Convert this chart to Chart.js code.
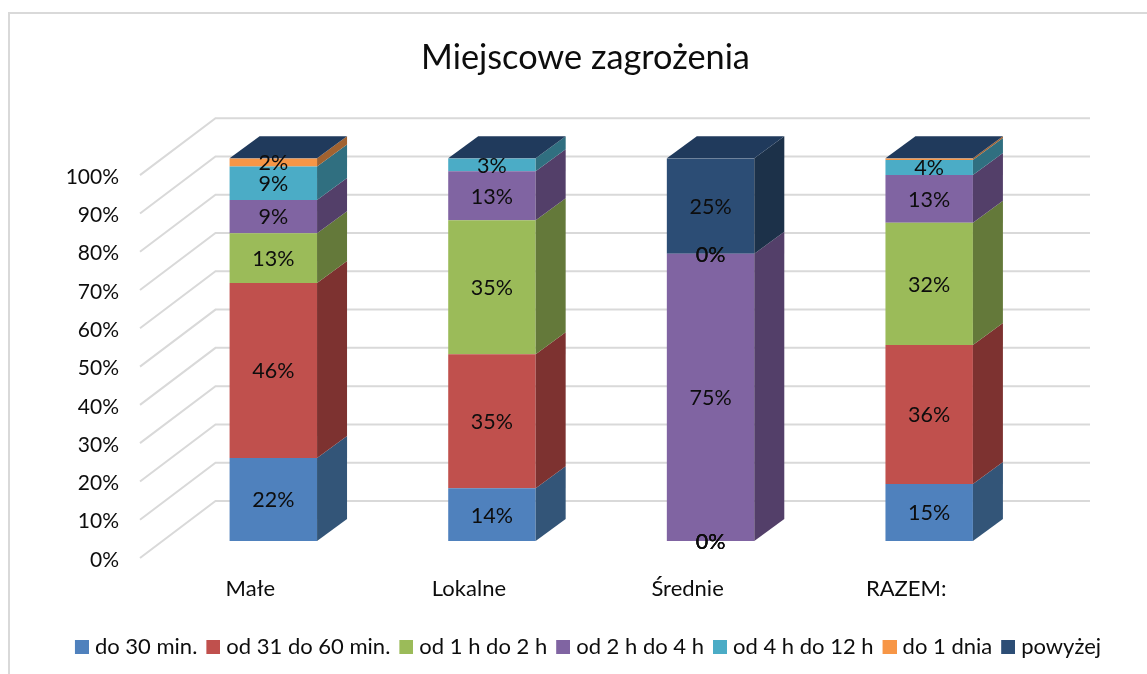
<!DOCTYPE html>
<html><head><meta charset="utf-8">
<script src="https://cdn.jsdelivr.net/npm/chart.js@4"></script>
<style>html,body{margin:0;padding:0;background:#fff}canvas{display:block}</style>
</head><body>
<canvas id="c" width="1147" height="674"></canvas>
<script>
const categories = ['Małe','Lokalne','Średnie','RAZEM:'];
const doPol = [21.7, 13.8, 0, 14.9];
const od31 = [45.7, 35, 0, 36.3];
const od1h = [13, 35, 0, 31.9];
const od2h = [8.7, 12.8, 75, 12.5];
const od4h = [8.7, 3.4, 0, 3.9];
const do1d = [2.2, null, 0, 0.5];
const powyzej = [null, null, 25, null];
const seriesNames = ['do 30 min.','od 31 do 60 min.','od 1 h do 2 h','od 2 h do 4 h','od 4 h do 12 h','do 1 dnia','powyżej'];
const seriesValues = [doPol, od31, od1h, od2h, od4h, do1d, powyzej];
const frontColors = ['#4f81bd','#c0504d','#9bbb59','#8064a2','#4bacc6','#f79646','#2c4d75'];
const sideColors = ['#335578','#7d3230','#64793a','#533f69','#306f80','#a16230','#1c3149'];
const topColor = '#203a5c';
const gridColor = '#d9d9d9';
const FONT = 'Lato';

const depthX = 30, depthY = 22, wallX = 75.5, wallFront = 17, wallBack = -40;

function legendSwatch(color) {
  const shift = 5, size = 14;
  const cv = document.createElement('canvas');
  cv.width = size + 2 * shift; cv.height = size;
  const g = cv.getContext('2d');
  g.fillStyle = color;
  g.fillRect(2 * shift, 0, size, size);
  return cv;
}

const threeD = {
  id: 'threeD',
  beforeDraw(chart) {
    const c = chart.ctx;
    c.save();
    c.strokeStyle = gridColor; c.lineWidth = 2;
    c.beginPath();
    c.moveTo(9, 674); c.lineTo(9, 13); c.lineTo(1147, 13);
    c.stroke();
    c.restore();
  },
  beforeDatasetsDraw(chart) {
    const c = chart.ctx, y = chart.scales.y, a = chart.chartArea;
    const left = a.left - 24, right = a.right + 51.5;
    c.save();
    c.strokeStyle = gridColor; c.lineWidth = 2;
    y.ticks.forEach(t => {
      const p = y.getPixelForValue(t.value);
      c.beginPath();
      c.moveTo(left, p + wallFront);
      c.lineTo(left + wallX, p + wallBack);
      c.lineTo(right, p + wallBack);
      c.stroke();
    });
    c.restore();
  },
  afterDatasetsDraw(chart) {
    const c = chart.ctx;
    c.save();
    categories.forEach((_, i) => {
      let x2 = 0, x1 = 0, topY = Infinity;
      chart.data.datasets.forEach((ds, d) => {
        const el = chart.getDatasetMeta(d).data[i];
        const v = ds.data[i];
        if (v === null || isNaN(el.y)) return;
        x1 = el.x - el.width / 2; x2 = el.x + el.width / 2;
        topY = Math.min(topY, el.y);
        if (!v) return;
        c.fillStyle = sideColors[d];
        c.beginPath();
        c.moveTo(x2, el.y); c.lineTo(x2 + depthX, el.y - depthY);
        c.lineTo(x2 + depthX, el.base - depthY); c.lineTo(x2, el.base);
        c.closePath(); c.fill();
      });
      c.fillStyle = topColor;
      c.beginPath();
      c.moveTo(x1, topY); c.lineTo(x1 + depthX, topY - depthY);
      c.lineTo(x2 + depthX, topY - depthY); c.lineTo(x2, topY);
      c.closePath(); c.fill();
    });
    c.fillStyle = '#0d0d0d';
    c.font = '21.5px ' + FONT;
    c.textAlign = 'center'; c.textBaseline = 'middle';
    chart.data.datasets.forEach((ds, d) => {
      ds.data.forEach((v, i) => {
        if (v === null || (v > 0 && v < 1)) return;
        const el = chart.getDatasetMeta(d).data[i];
        c.fillText(Math.round(v) + '%', el.x, (el.y + el.base) / 2 + 1);
      });
    });
    c.restore();
  }
};

new Chart(document.getElementById('c'), {
  type: 'bar',
  data: {
    labels: categories,
    datasets: seriesNames.map((n, i) => ({
      label: n, data: seriesValues[i], backgroundColor: frontColors[i],
      stack: 's', barPercentage: 1, categoryPercentage: 0.4
    }))
  },
  options: {
    responsive: false, animation: false, devicePixelRatio: 1,
    layout: { padding: { left: 24, right: 0, top: 0, bottom: 6 } },
    scales: {
      x: {
        stacked: true,
        grid: { display: false }, border: { display: false },
        ticks: { color: '#0d0d0d', font: { family: FONT, size: 22 }, padding: 27, labelOffset: -23, maxRotation: 0 },
        afterFit(s) { s.height = 91; }
      },
      y: {
        stacked: true, min: 0, max: 100,
        grid: { display: false, drawTicks: false }, border: { display: false },
        ticks: { stepSize: 10, color: '#0d0d0d', font: { family: FONT, size: 21 }, padding: 45, labelOffset: 19, callback: v => v + '%' },
        afterFit(s) { s.width = 140; }
      },
      yR: {
        position: 'right', display: true,
        grid: { display: false, drawTicks: false }, border: { display: false },
        ticks: { display: false },
        afterFit(s) { s.width = 108.5; }
      }
    },
    plugins: {
      title: { display: true, text: 'Miejscowe zagrożenia', color: '#0d0d0d',
        font: { family: FONT, size: 34.3, weight: 'normal' }, padding: { top: 37.5, bottom: 79.5 } },
      legend: { position: 'bottom',
        labels: { boxWidth: 14, boxHeight: 14, usePointStyle: true, pointStyleWidth: 14,
          color: '#0d0d0d', font: { family: FONT, size: 22 }, padding: 4,
          generateLabels(chart) {
            return Chart.defaults.plugins.legend.labels.generateLabels(chart).map((it, i) => {
              it.pointStyle = legendSwatch(frontColors[i]);
              return it;
            });
          } } },
      tooltip: { enabled: false }
    }
  },
  plugins: [threeD]
});
</script>
</body></html>
